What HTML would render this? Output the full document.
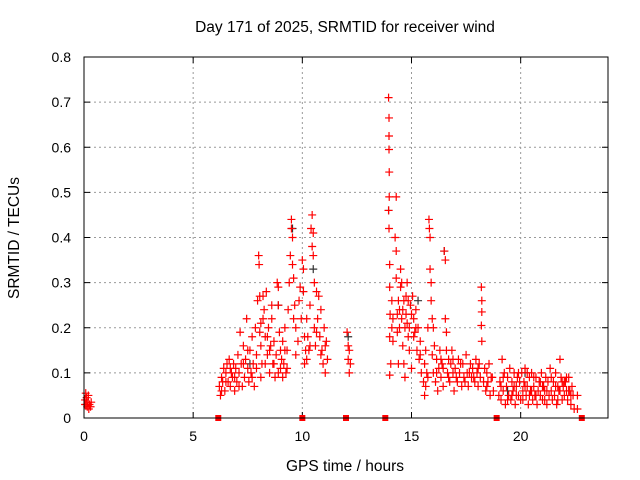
<!DOCTYPE html>
<html><head><meta charset="utf-8"><style>
body{margin:0;background:#fff;}
svg{display:block;font-family:"Liberation Sans",sans-serif;}
</style></head><body>
<svg id="chart" width="640" height="480">
<text x="345" y="32" text-anchor="middle" font-size="15.5">Day 171 of 2025, SRMTID for receiver wind</text>
<text x="345" y="471" text-anchor="middle" font-size="15.5">GPS time / hours</text>
<text x="0" y="0" transform="translate(19,238) rotate(-90)" text-anchor="middle" font-size="15.5">SRMTID / TECUs</text>
<g id="grid"></g>
<g id="ticks"></g>
<g id="marks"></g>
<rect x="84" y="57" width="524" height="361" fill="none" stroke="#000" stroke-width="1"/>
</svg>
<script>
const xTicks=[0,5,10,15,20];
const yTicks=[0,0.1,0.2,0.3,0.4,0.5,0.6,0.7,0.8];
const yTickLabels=["0","0.1","0.2","0.3","0.4","0.5","0.6","0.7","0.8"];
const redPoints=[[0.05,0.04],[0.08,0.055],[0.1,0.03],[0.12,0.045],[0.15,0.025],[0.18,0.035],[0.2,0.05],[0.22,0.02],[0.25,0.03],[0.3,0.025],[0.33,0.035],[0.05,0.03],
[6.2,0.07],[6.25,0.05],[6.3,0.09],[6.35,0.08],[6.4,0.11],[6.45,0.06],[6.5,0.1],[6.55,0.12],[6.6,0.08],[6.65,0.13],[6.7,0.07],[6.75,0.1],[6.8,0.09],[6.85,0.12],[6.9,0.06],[6.95,0.11],[7.0,0.08],
[7.05,0.14],[7.1,0.1],[7.15,0.19],[7.2,0.12],[7.25,0.07],[7.3,0.16],[7.35,0.09],[7.4,0.13],[7.45,0.22],[7.5,0.11],[7.55,0.08],[7.6,0.15],[7.65,0.1],[7.7,0.18],[7.75,0.12],[7.8,0.07],[7.85,0.2],[7.9,0.14],[7.95,0.26],[8.0,0.36],[8.02,0.34],[8.05,0.27],[8.05,0.19],[8.1,0.16],[8.1,0.21],[8.15,0.12],
[8.2,0.27],[8.25,0.24],[8.3,0.18],[8.35,0.28],[8.4,0.14],[8.45,0.2],[8.5,0.1],[8.55,0.16],[8.6,0.22],[8.65,0.12],[8.7,0.17],[8.75,0.09],[8.8,0.14],[8.85,0.3],[8.9,0.29],[8.9,0.25],[8.95,0.19],[9.0,0.15],[9.0,0.11],
[9.05,0.13],[9.1,0.17],[9.15,0.12],[9.2,0.2],[9.25,0.1],[9.3,0.15],[9.35,0.24],[9.4,0.3],[9.45,0.36],[9.5,0.44],[9.5,0.42],[9.55,0.4],[9.55,0.34],[9.6,0.31],[9.6,0.22],[9.65,0.25],[9.7,0.2],[9.7,0.14],
[9.8,0.17],[9.85,0.26],[9.9,0.29],[9.95,0.22],[10.0,0.35],[10.05,0.33],[10.05,0.28],[10.1,0.12],[10.1,0.18],[10.15,0.15],[10.2,0.13],[10.2,0.22],
[10.3,0.15],[10.35,0.25],[10.4,0.42],[10.45,0.45],[10.45,0.38],[10.5,0.36],[10.5,0.41],[10.55,0.3],[10.55,0.2],[10.6,0.16],
[10.65,0.28],[10.7,0.22],[10.75,0.27],[10.8,0.18],[10.85,0.24],[10.9,0.15],[10.95,0.12],[11.0,0.2],[11.05,0.1],[11.1,0.17],[11.15,0.13],
[12.05,0.19],[12.1,0.16],[12.1,0.13],[12.15,0.1],[12.15,0.15],[12.2,0.12],
[13.95,0.71],[13.97,0.665],[13.97,0.625],[13.97,0.595],[13.98,0.545],[13.98,0.49],[13.95,0.46],[13.97,0.42],[14.0,0.34],[14.0,0.29],[14.02,0.23],[14.0,0.18],[14.05,0.12],[14.0,0.095],[14.1,0.2],[14.1,0.26],[14.15,0.17],[14.15,0.22],
[14.25,0.4],[14.3,0.49],[14.3,0.37],[14.3,0.31],[14.35,0.23],[14.4,0.12],[14.4,0.26],[14.45,0.2],[14.5,0.33],[14.5,0.29],[14.55,0.3],[14.6,0.16],[14.6,0.24],[14.65,0.12],[14.7,0.2],[14.7,0.09],[14.75,0.27],[14.8,0.21],[14.85,0.18],[14.9,0.15],[14.95,0.25],[15.0,0.11],[14.8,0.3],[14.65,0.26],
[15.05,0.27],[15.1,0.22],[15.15,0.19],[15.2,0.24],[15.25,0.15],[15.3,0.2],[15.35,0.13],[15.4,0.17],[15.45,0.1],
[15.55,0.08],[15.6,0.12],[15.6,0.05],[15.65,0.15],[15.7,0.1],[15.75,0.2],[15.8,0.44],[15.82,0.42],[15.85,0.4],[15.85,0.33],[15.9,0.3],[15.9,0.26],[15.95,0.22],[15.95,0.14],[16.0,0.2],[16.0,0.1],
[16.05,0.16],[16.1,0.08],[16.15,0.13],[16.2,0.06],[16.25,0.11],[16.3,0.15],[16.35,0.09],[16.4,0.12],[16.45,0.07],[16.5,0.37],[16.55,0.35],[16.55,0.22],[16.6,0.19],[16.6,0.15],[16.65,0.1],[16.7,0.13],[16.75,0.08],[16.8,0.12],[16.85,0.15],[16.9,0.1],[16.95,0.06],
[17.0,0.11],[17.1,0.08],[17.15,0.13],[17.2,0.1],[17.3,0.07],[17.35,0.12],[17.4,0.09],[17.5,0.14],[17.55,0.1],[17.6,0.07],[17.7,0.12],[17.75,0.09],[17.8,0.11],[17.9,0.08],[17.95,0.13],
[18.0,0.1],[18.05,0.07],[18.1,0.12],[18.15,0.09],[18.2,0.29],[18.22,0.26],[18.22,0.235],[18.2,0.205],[18.22,0.17],[18.3,0.08],[18.35,0.11],[18.4,0.06],[18.45,0.1],[18.5,0.08],[18.55,0.12],[18.6,0.05],[18.7,0.09],[18.75,0.06],
[19.0,0.05],[19.05,0.08],[19.1,0.04],[19.15,0.13],[19.2,0.06],[19.25,0.1],[19.3,0.03],[19.35,0.07],[19.4,0.09],[19.45,0.05],[19.5,0.11],[19.55,0.04],[19.6,0.08],[19.65,0.06],[19.7,0.1],[19.75,0.03],[19.8,0.07],[19.85,0.09],[19.9,0.05],[19.95,0.08],
[20.0,0.04],[20.05,0.1],[20.1,0.06],[20.15,0.08],[20.2,0.11],[20.25,0.05],[20.3,0.07],[20.35,0.03],[20.4,0.09],[20.45,0.06],[20.5,0.1],[20.55,0.04],[20.6,0.07],[20.65,0.05],[20.7,0.09],[20.75,0.03],[20.8,0.06],[20.85,0.08],[20.9,0.05],[20.95,0.1],
[21.0,0.04],[21.05,0.07],[21.1,0.06],[21.15,0.09],[21.2,0.03],[21.25,0.08],[21.3,0.05],[21.35,0.11],[21.4,0.06],[21.45,0.04],[21.5,0.08],[21.55,0.05],[21.6,0.1],[21.65,0.03],[21.7,0.07],[21.75,0.06],[21.8,0.13],[21.85,0.09],[21.9,0.04],[21.95,0.07],
[22.0,0.05],[22.05,0.08],[22.1,0.06],[22.15,0.04],[22.2,0.09],[22.25,0.06],[22.3,0.03],[22.35,0.07],[22.4,0.05],[22.45,0.02],[22.6,0.05],[22.6,0.02],
[19.1,0.07],[19.6,0.05],[20.2,0.07],[20.6,0.09],[21.1,0.04],[21.6,0.07],[22.0,0.08]];
const redPointsExtra=[[6.3,0.06],[6.5,0.08],[6.7,0.11],[6.9,0.09],[7.1,0.07],[7.3,0.12],[7.5,0.15],[7.7,0.09],[7.9,0.11],[8.1,0.09],[8.3,0.12],[8.5,0.15],[8.7,0.12],[8.9,0.1],[9.1,0.09],[9.3,0.11],[9.2,0.15],[8.4,0.18],[8.6,0.25],[8.2,0.22],
[10.25,0.18],[10.35,0.16],[10.65,0.19],[10.85,0.14],[11.05,0.16],[14.35,0.19],[14.45,0.24],[14.55,0.22],[14.75,0.23],[14.85,0.26],[14.9,0.2],[15.0,0.23],[15.1,0.18],[15.2,0.2],[15.4,0.14],
[15.65,0.07],[15.75,0.09],[16.15,0.1],[16.35,0.13],[16.45,0.11],[16.7,0.09],[16.9,0.13],[17.05,0.09],[17.25,0.12],[17.45,0.08],[17.65,0.1],[17.85,0.09],[18.05,0.11],[18.45,0.07],[18.65,0.09],
[19.2,0.09],[19.4,0.04],[19.7,0.07],[19.9,0.1],[20.1,0.04],[20.3,0.1],[20.5,0.06],[20.7,0.05],[20.9,0.08],[21.2,0.06],[21.4,0.09],[21.7,0.04],[21.9,0.08],[22.1,0.09],[22.3,0.05],[22.2,0.06],[21.8,0.06],[19.8,0.05],[20.4,0.05],[21.0,0.07]];
const blackPoints=[[9.55,0.42],[10.5,0.33],[7.6,0.12],[20.2,0.1],[13.95,0.46],[16.5,0.37],[12.1,0.18],[8.9,0.25],[15.3,0.26],[19.4,0.06]];
const gapMarkers=[6.15,10,12,13.8,18.9,22.8];

const X0=84,X1=608,Y0=418,Y1=57,XMAX=24,YMAX=0.8;
const sx=v=>X0+(X1-X0)*v/XMAX;
const sy=v=>Y0-(Y0-Y1)*v/YMAX;
const NS="http://www.w3.org/2000/svg";
function mk(tag,parent,attrs){const e=document.createElementNS(NS,tag);for(const k in attrs)e.setAttribute(k,attrs[k]);parent.appendChild(e);return e;}
const grid=document.getElementById('grid'),ticks=document.getElementById('ticks'),marks=document.getElementById('marks');
xTicks.forEach(t=>{
  const x=sx(t);
  if(t>0){const g=mk('line',grid,{x1:x,x2:x,y1:Y1,y2:Y0,stroke:'#999','stroke-dasharray':'2,3'});
  
  }
  mk('line',ticks,{x1:x,x2:x,y1:Y0,y2:Y0-6,stroke:'#000'});
  mk('line',ticks,{x1:x,x2:x,y1:Y1,y2:Y1+6,stroke:'#000'});
  const l=mk('text',ticks,{x:x,y:Y0+23,'text-anchor':'middle','font-size':'14'});l.textContent=t;
  
  
});
yTicks.forEach((t,i)=>{
  const y=sy(t);
  if(i>0&&i<yTicks.length-1){const g=mk('line',grid,{x1:X0,x2:X1,y1:y,y2:y,stroke:'#999','stroke-dasharray':'2,3'});
  
  }
  mk('line',ticks,{x1:X0,x2:X0+6,y1:y,y2:y,stroke:'#000'});
  mk('line',ticks,{x1:X1,x2:X1-6,y1:y,y2:y,stroke:'#000'});
  const l=mk('text',ticks,{x:X0-13,y:y+5,'text-anchor':'end','font-size':'14'});l.textContent=yTickLabels[i];
  
  
});
function plus(p,color,name){
  const x=sx(p[0]),y=sy(p[1]);
  const e=mk('path',marks,{d:`M${x-4},${y}h8M${x},${y-4}v8`,stroke:color,'stroke-width':'1.2',fill:'none'});
  
  
}
blackPoints.forEach(p=>plus(p,'#333','srmtid-point-black'));
redPoints.forEach(p=>plus(p,'#f00','srmtid-point'));
redPointsExtra.forEach(p=>plus(p,'#f00','srmtid-point'));
gapMarkers.forEach(t=>{
  const r=mk('rect',marks,{x:sx(t)-3,y:Y0-3,width:6,height:6,fill:'#f00'});
  
  
});
</script>
</body></html>
